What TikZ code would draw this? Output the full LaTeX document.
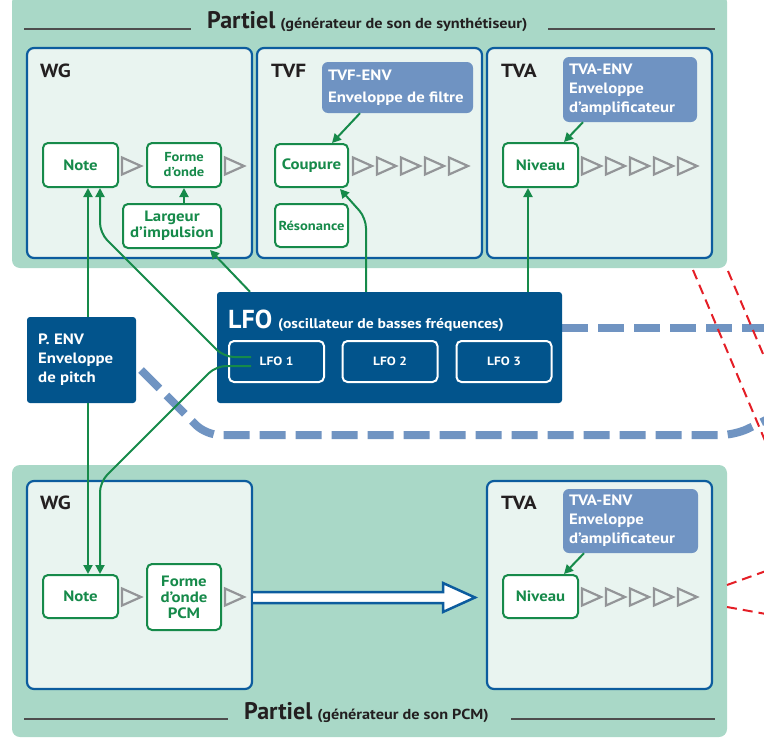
\documentclass[tikz,border=0pt]{standalone}
\usepackage{fontspec}
\setmainfont{PT Sans}[FakeStretch=1.12]
\newfontfamily\plainfont{PT Sans}
\usetikzlibrary{arrows.meta}
\definecolor{bgGreen}{HTML}{A9D8C7}
\definecolor{panelFill}{HTML}{E9F4F0}
\definecolor{panelBlue}{HTML}{0C5C9E}
\definecolor{nodeGreen}{HTML}{168A4A}
\definecolor{envBlue}{HTML}{6F93C2}
\definecolor{darkBlue}{HTML}{02548C}
\definecolor{dashBlue}{HTML}{7094C2}
\definecolor{redC}{HTML}{E41E26}
\definecolor{triGray}{HTML}{939598}
\definecolor{titleDark}{HTML}{231F20}
\definecolor{ruleGray}{HTML}{4D4D4D}
\newcommand\gtri[2]{\draw[tri] (#1,#2-8.5) -- (#1+19,#2) -- (#1,#2+8.5) -- cycle;}
\begin{document}
\begin{tikzpicture}[x=1pt,y=-1pt,
  greenbg/.style={fill=bgGreen, rounded corners=8pt},
  panel/.style={draw=panelBlue, fill=panelFill, line width=2.2pt, rounded corners=7pt, inner sep=0pt},
  gnode/.style={draw=nodeGreen, fill=white, line width=2pt, rounded corners=5pt, text=nodeGreen,
    font=\bfseries\fontsize{15}{16}\selectfont, align=center, inner sep=0pt},
  gsmall/.style={font=\bfseries\fontsize{13}{15}\selectfont},
  envbox/.style={fill=envBlue, rounded corners=6pt, inner sep=0pt},
  envtext/.style={anchor=west, inner sep=0pt, text=white, align=left, font=\bfseries\fontsize{15}{19}\selectfont},
  dbox/.style={fill=darkBlue, rounded corners=3pt, inner sep=0pt},
  lfosub/.style={draw=white, line width=2pt, rounded corners=5pt, text=white, inner sep=0pt,
    font=\bfseries\fontsize{12}{14}\selectfont, minimum width=95pt, minimum height=41pt},
  plabel/.style={anchor=base west, inner sep=0pt, text=titleDark, font=\bfseries\fontsize{19}{20}\selectfont},
  garrow/.style={draw=nodeGreen, line width=2pt, -{Triangle[length=9pt,width=9pt]}},
  tri/.style={draw=triGray, line width=2.2pt, line join=miter},
  bdash/.style={draw=dashBlue, line width=8pt, dash pattern=on 26pt off 10pt},
  rdash/.style={draw=redC, line width=2pt, dash pattern=on 10pt off 6pt},
  rulel/.style={draw=ruleGray, line width=1.5pt}]
\useasboundingbox (0,0) rectangle (764,742);
\clip (0,0) rectangle (764,742);

% green partial backgrounds
\fill[greenbg] (12,-6) rectangle (727,268);
\fill[greenbg] (12,465) rectangle (727,737);

% titles
\node[anchor=base west, inner sep=0pt, text=titleDark] (title1) at (207,28)
  {{\plainfont\bfseries\fontsize{24}{26}\selectfont Partiel}\hspace{5pt}{\bfseries\fontsize{14.5}{16}\selectfont (générateur de son de synthétiseur)}};
\draw[rulel] (24,29) -- (191,29);
\draw[rulel] (548,29) -- (715,29);
\node[anchor=base west, inner sep=0pt, text=titleDark] (title2) at (244,719)
  {{\plainfont\bfseries\fontsize{24}{26}\selectfont Partiel}\hspace{5pt}{\bfseries\fontsize{14.5}{16}\selectfont (générateur de son PCM)}};
\draw[rulel] (24,719) -- (228,719);
\draw[rulel] (511,719) -- (715,719);

% panels
\node[panel, minimum width=225pt, minimum height=210pt] (wgT) at (139.5,153) {};
\node[panel, minimum width=225pt, minimum height=210pt] (tvfT) at (369.5,153) {};
\node[panel, minimum width=225pt, minimum height=210pt] (tvaT) at (599.5,153) {};
\node[panel, minimum width=225pt, minimum height=208pt] (wgB) at (139.5,585) {};
\node[panel, minimum width=225pt, minimum height=208pt] (tvaB) at (599.5,585) {};

\node[plabel] (lwgT) at (40,77) {WG};
\node[plabel] (ltvfT) at (271,77) {TVF};
\node[plabel] (ltvaT) at (501,77) {TVA};
\node[plabel] (lwgB) at (40,509) {WG};
\node[plabel] (ltvaB) at (501,509) {TVA};

% blue dashed lines
\draw[bdash] (562,328) -- (770,328);
\draw[bdash, rounded corners=14pt] (141,370) -- (206,435) -- (735,435) -- (770,418);

% red dashed lines
\draw[rdash] (693,270) -- (766,443);
\draw[rdash] (728,271) -- (766,361);
\draw[rdash] (727,585) -- (766,571);
\draw[rdash] (727,607) -- (766,614);

% dark blue boxes
\node[dbox, minimum width=345pt, minimum height=111pt] (lfo) at (389.5,347.5) {};
\node[anchor=base west, inner sep=0pt, text=white] (lfotitle) at (228,328)
  {{\plainfont\bfseries\fontsize{26}{28}\selectfont LFO}\hspace{6pt}{\bfseries\fontsize{14}{16}\selectfont (oscillateur de basses fréquences)}};
\node[lfosub] (lfo1) at (276.5,361.5) {LFO 1};
\node[lfosub] (lfo2) at (390,361.5) {LFO 2};
\node[lfosub] (lfo3) at (504,361.5) {LFO 3};

\node[dbox, minimum width=109pt, minimum height=86pt] (penv) at (81.5,360) {};
\node[envtext] (penvtxt) at (38,360) {P. ENV\\Enveloppe\\de pitch};

% ENV boxes
\node[envbox, minimum width=151pt, minimum height=51pt] (tvfenv) at (397.5,87.5) {};
\node[envtext, font=\bfseries\fontsize{15}{22}\selectfont] (tvfenvtxt) at ([xshift=6pt]tvfenv.west) {TVF-ENV\\Enveloppe de filtre};
\node[envbox, minimum width=134pt, minimum height=65pt] (tvaenvT) at (630,89.5) {};
\node[envtext] (tvaenvTtxt) at ([xshift=6pt]tvaenvT.west) {TVA-ENV\\Enveloppe\\d’amplificateur};
\node[envbox, minimum width=135pt, minimum height=64pt] (tvaenvB) at (630.5,521) {};
\node[envtext] (tvaenvBtxt) at ([xshift=6pt]tvaenvB.west) {TVA-ENV\\Enveloppe\\d’amplificateur};

% green nodes
\node[gnode, minimum width=75pt, minimum height=44pt] (noteT) at (80.5,165) {Note};
\node[gnode, gsmall, minimum width=74pt, minimum height=44pt] (formeT) at (184,165) {Forme\\d’onde};
\node[gnode, minimum width=98pt, minimum height=44pt] (largeur) at (172,226) {Largeur\\d’impulsion};
\node[gnode, minimum width=73pt, minimum height=43pt] (coupure) at (311.5,165.5) {Coupure};
\node[gnode, gsmall, minimum width=73pt, minimum height=43pt] (reso) at (311.5,225.5) {Résonance};
\node[gnode, minimum width=75pt, minimum height=44pt] (niveauT) at (540.5,165) {Niveau};
\node[gnode, minimum width=75pt, minimum height=43pt] (noteB) at (80.5,596.5) {Note};
\node[gnode, minimum width=74pt, minimum height=66pt] (formeB) at (184,597) {Forme\\d’onde\\PCM};
\node[gnode, minimum width=75pt, minimum height=43pt] (niveauB) at (540.5,596.5) {Niveau};

% gray triangles
\gtri{122}{166}
\gtri{225}{166}
\foreach \i in {0,...,4} {\gtri{353+24*\i}{166}}
\foreach \i in {0,...,4} {\gtri{582+24*\i}{166}}
\gtri{122}{597}
\gtri{225}{597}
\foreach \i in {0,...,4} {\gtri{582+24*\i}{597}}

% big hollow arrow WG -> TVA (PCM)
\filldraw[fill=white, draw=panelBlue, line width=2.5pt, line join=miter]
  (wgB.east |- 0,592) -- (443,592) -- (443,583) -- (475,597.5) -- (443,612) -- (443,603) -- (wgB.east |- 0,603);

% green connectors
\coordinate (xa) at (88,0);
\coordinate (xb) at (100,0);
\draw[garrow] (xa |- penv.north) -- (xa |- noteT.south);
\draw[garrow] (xa |- penv.south) -- (xa |- noteB.north);
\draw[garrow, rounded corners=10pt] ([xshift=23pt,yshift=4.5pt]lfo1.west) -- (224,357) -- (100,233) -- (xb |- noteT.south);
\draw[garrow, rounded corners=10pt] ([xshift=23pt,yshift=-4.5pt]lfo1.west) -- (216,366) -- (100,482) -- (xb |- noteB.north);
\draw[garrow] (lfo.north -| 250,0) -- (210,250);
\draw[garrow, rounded corners=10pt] (lfo.north -| 366,0) -- (366,218) -- ([xshift=28.5pt,yshift=-1pt]coupure.south);
\draw[garrow] (lfo.north -| 528,0) -- (niveauT.south -| 528,0);
\draw[garrow] (formeT.south |- largeur.north) -- (formeT.south);
\draw[garrow] ([xshift=-37.5pt]tvfenv.south) -- ([xshift=20.5pt]coupure.north);
\draw[garrow] ([xshift=-47pt]tvaenvT.south) -- ([xshift=23.5pt]niveauT.north);
\draw[garrow] ([xshift=-46.5pt]tvaenvB.south) -- ([xshift=23.5pt]niveauB.north);
\end{tikzpicture}
\end{document}
